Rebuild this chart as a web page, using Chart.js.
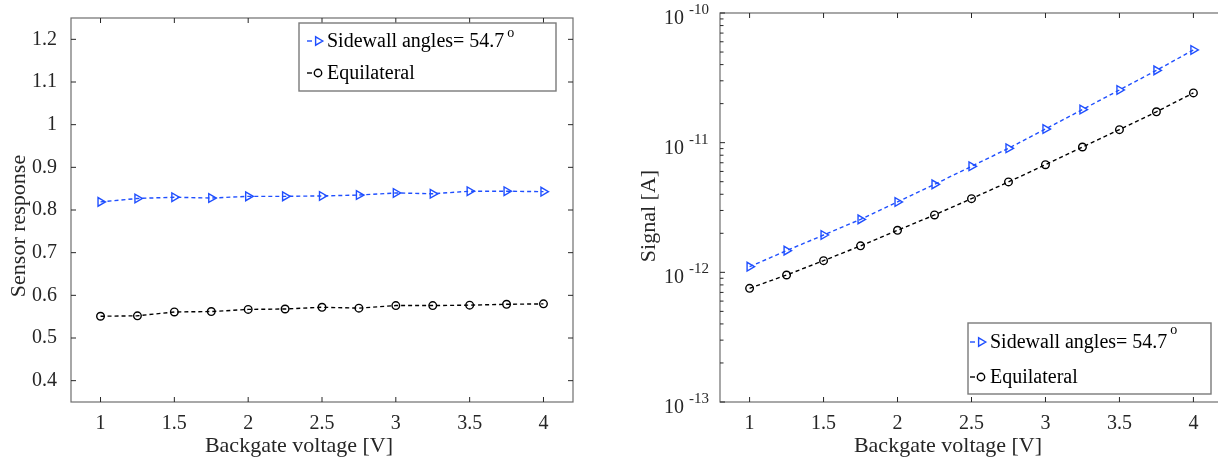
<!DOCTYPE html>
<html>
<head>
<meta charset="utf-8">
<script src="https://cdn.jsdelivr.net/npm/chart.js@4"></script>
<style>
  html, body { margin: 0; padding: 0; background: #fff; }
  body { width: 1218px; height: 460px; overflow: hidden; position: relative; }
  canvas { position: absolute; top: 0; }
  #left { left: 0; }
  #right { left: 600px; }
</style>
</head>
<body>
<canvas id="left" width="600" height="460"></canvas>
<canvas id="right" width="640" height="460"></canvas>
<script>
// backgate voltage [V]
const xVals = [1, 1.25, 1.5, 1.75, 2, 2.25, 2.5, 2.75, 3, 3.25, 3.5, 3.75, 4];
const xTicks = [1, 1.5, 2, 2.5, 3, 3.5, 4];

// left: sensor response
const respSidewall = [0.819, 0.827, 0.830, 0.828, 0.832, 0.832, 0.833, 0.835, 0.840, 0.838, 0.844, 0.844, 0.843];
const respEquil = [0.551, 0.552, 0.561, 0.562, 0.567, 0.568, 0.572, 0.570, 0.576, 0.576, 0.577, 0.579, 0.580];
const respTicks = [0.4, 0.5, 0.6, 0.7, 0.8, 0.9, 1, 1.1, 1.2];

// right: signal [A]
const sigSidewall = [1.106e-12, 1.47e-12, 1.94e-12, 2.56e-12, 3.49e-12, 4.77e-12, 6.57e-12, 9.05e-12, 1.274e-11, 1.80e-11, 2.55e-11, 3.61e-11, 5.19e-11];
const sigEquil = [7.53e-13, 9.54e-13, 1.23e-12, 1.60e-12, 2.11e-12, 2.77e-12, 3.70e-12, 4.98e-12, 6.76e-12, 9.26e-12, 1.26e-11, 1.73e-11, 2.42e-11];

const logDecades = [-13, -12, -11, -10];
const seriesNames = ["Sidewall angles= 54.7", "Equilateral"];

const BLUE = "#1f4fff";
const INK = "#262626";
const FONT = "'Liberation Serif', 'DejaVu Serif', serif";

const pairs = (ys) => xVals.map((x, i) => ({ x: x, y: ys[i] }));

function makeDatasets(a, b) {
  return [
    {
      label: seriesNames[0],
      data: pairs(a),
      borderColor: BLUE,
      backgroundColor: "rgba(0,0,0,0)",
      borderWidth: 1.4,
      borderDash: [4, 3],
      pointStyle: "triangle",
      rotation: 90,
      pointRadius: 5,
      pointBorderWidth: 1.4,
    },
    {
      label: seriesNames[1],
      data: pairs(b),
      borderColor: "#000",
      backgroundColor: "rgba(0,0,0,0)",
      borderWidth: 1.4,
      borderDash: [4, 3],
      pointStyle: "circle",
      pointRadius: 3.8,
      pointBorderWidth: 1.4,
    },
  ];
}

function line(ctx, x1, y1, x2, y2) {
  ctx.beginPath();
  ctx.moveTo(x1, y1);
  ctx.lineTo(x2, y2);
  ctx.stroke();
}

function drawLegend(ctx, o) {
  const b = o.box;
  ctx.strokeStyle = "#7a7a7a";
  ctx.lineWidth = 1.4;
  ctx.strokeRect(b.x, b.y, b.w, b.h);
  ctx.font = "20px " + FONT;
  ctx.fillStyle = "#000";
  ctx.textBaseline = "middle";
  ctx.textAlign = "left";
  const rows = [b.y + o.row1, b.y + o.row2];
  const mx = b.x + o.markX;
  rows.forEach((ry, i) => {
    ctx.setLineDash([]);
    ctx.lineWidth = 1.4;
    ctx.strokeStyle = i === 0 ? BLUE : "#000";
    line(ctx, mx - 11, ry, mx - 6, ry);
    ctx.beginPath();
    if (i === 0) {
      ctx.moveTo(mx + 4.8, ry);
      ctx.lineTo(mx - 2.4, ry - 4.2);
      ctx.lineTo(mx - 2.4, ry + 4.2);
      ctx.closePath();
    } else {
      ctx.arc(mx, ry, 3.7, 0, Math.PI * 2);
    }
    ctx.stroke();
    ctx.fillText(seriesNames[i], mx + 9, ry + 1);
  });
  const w = ctx.measureText(seriesNames[0]).width;
  ctx.font = "14px " + FONT;
  ctx.textBaseline = "alphabetic";
  ctx.fillText("o", mx + 9 + w + 3, rows[0] + o.degY);
}

const framePlugin = {
  id: "frame",
  afterDraw(chart, args, opts) {
    const { ctx, chartArea: a, scales } = chart;
    ctx.save();
    // box
    ctx.strokeStyle = "#6e6e6e";
    ctx.lineWidth = 1.2;
    ctx.strokeRect(a.left, a.top, a.right - a.left, a.bottom - a.top);
    // inward ticks
    ctx.strokeStyle = INK;
    ctx.lineWidth = 1;
    scales.x.ticks.forEach((t) => {
      const px = scales.x.getPixelForValue(t.value);
      line(ctx, px, a.bottom, px, a.bottom - 5);
      line(ctx, px, a.top, px, a.top + 5);
    });
    if (opts.log) {
      logDecades.forEach((e) => {
        const py = scales.y.getPixelForValue(Math.pow(10, e));
        line(ctx, a.left, py, a.left + 5, py);
        line(ctx, a.right, py, a.right - 5, py);
        if (e < -10) {
          for (let m = 2; m <= 9; m++) {
            const my = scales.y.getPixelForValue(m * Math.pow(10, e));
            line(ctx, a.left, my, a.left + 3.5, my);
            line(ctx, a.right, my, a.right - 3.5, my);
          }
        }
        // tick labels 10^e
        ctx.fillStyle = INK;
        ctx.textAlign = "left";
        ctx.textBaseline = "alphabetic";
        ctx.font = "20px " + FONT;
        ctx.fillText("10", a.left - 56, py + 11);
        ctx.font = "15px " + FONT;
        ctx.fillText(String(e), a.left - 31, py + 1);
      });
    } else {
      scales.y.ticks.forEach((t) => {
        const py = scales.y.getPixelForValue(t.value);
        line(ctx, a.left, py, a.left + 5, py);
        line(ctx, a.right, py, a.right - 5, py);
      });
    }
    // axis titles
    ctx.fillStyle = INK;
    ctx.font = "22px " + FONT;
    ctx.textAlign = "center";
    ctx.textBaseline = "middle";
    ctx.fillText(opts.xTitle, opts.xTitlePos[0], opts.xTitlePos[1]);
    ctx.save();
    ctx.translate(opts.yTitlePos[0], opts.yTitlePos[1]);
    ctx.rotate(-Math.PI / 2);
    ctx.fillText(opts.yTitle, 0, 0);
    ctx.restore();
    drawLegend(ctx, opts.legend);
    ctx.restore();
  },
};

function xScale() {
  return {
    type: "linear",
    min: 0.8,
    max: 4.2,
    grid: { display: false },
    border: { display: false },
    afterBuildTicks: (s) => { s.ticks = xTicks.map((v) => ({ value: v })); },
    ticks: {
      autoSkip: false,
      maxRotation: 0,
      padding: 2,
      color: INK,
      font: { family: FONT, size: 20 },
      callback: (v) => String(+v.toFixed(2)),
    },
    afterFit: (s) => { s.height = 58; },
  };
}

new Chart(document.getElementById("left"), {
  type: "line",
  data: { datasets: makeDatasets(respSidewall, respEquil) },
  plugins: [framePlugin],
  options: {
    responsive: false,
    animation: false,
    devicePixelRatio: 1,
    layout: { padding: { top: 13, right: 27, left: 0, bottom: 0 } },
    plugins: {
      legend: { display: false },
      tooltip: { enabled: false },
      frame: {
        log: false,
        xTitle: "Backgate voltage [V]",
        xTitlePos: [299, 446],
        yTitle: "Sensor response",
        yTitlePos: [19, 226],
        legend: { box: { x: 299, y: 23, w: 257, h: 68 }, row1: 18, row2: 50, markX: 19, degY: -4 },
      },
    },
    scales: {
      x: xScale(),
      y: {
        type: "linear",
        min: 0.35,
        max: 1.25,
        grid: { display: false },
        border: { display: false },
        afterBuildTicks: (s) => { s.ticks = respTicks.map((v) => ({ value: v })); },
        ticks: {
          padding: 6,
          color: INK,
          font: { family: FONT, size: 20 },
          callback: (v) => String(+v.toFixed(2)),
        },
        afterFit: (s) => { s.width = 71; },
      },
    },
  },
});

new Chart(document.getElementById("right"), {
  type: "line",
  data: { datasets: makeDatasets(sigSidewall, sigEquil) },
  plugins: [framePlugin],
  options: {
    responsive: false,
    animation: false,
    devicePixelRatio: 1,
    layout: { padding: { top: 13, right: 17, left: 0, bottom: 0 } },
    plugins: {
      legend: { display: false },
      tooltip: { enabled: false },
      frame: {
        log: true,
        xTitle: "Backgate voltage [V]",
        xTitlePos: [348, 446],
        yTitle: "Signal [A]",
        yTitlePos: [49, 216],
        legend: { box: { x: 368, y: 323, w: 243, h: 71 }, row1: 19, row2: 54, markX: 13, degY: -8 },
      },
    },
    scales: {
      x: xScale(),
      y: {
        type: "logarithmic",
        min: 1e-13,
        max: 1e-10,
        grid: { display: false },
        border: { display: false },
        ticks: { display: false },
        afterFit: (s) => { s.width = 120; },
      },
    },
  },
});
</script>
</body>
</html>
